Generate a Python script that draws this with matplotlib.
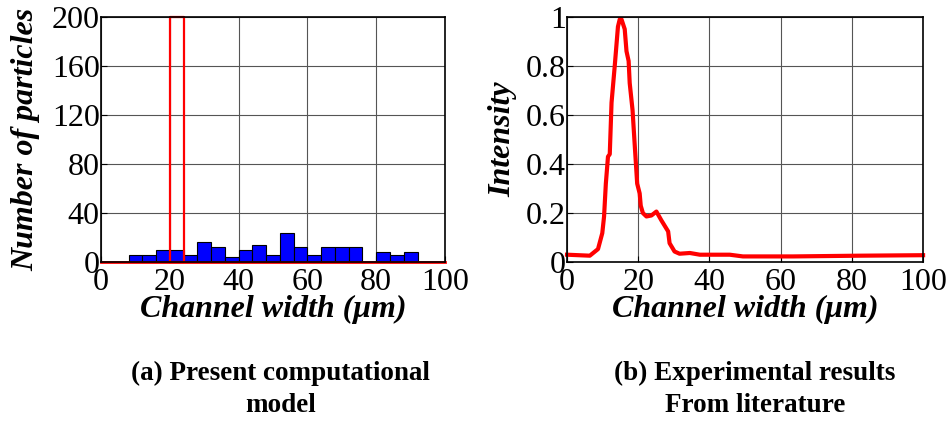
import numpy as np
import matplotlib
matplotlib.use("Agg")
import matplotlib.pyplot as plt

# histogramme du modele (bins de 4 um)
bin_left = [8, 12, 16, 20, 24, 28, 32, 36, 40, 44, 48, 52, 56, 60, 64, 68, 72, 76, 80, 84, 88]
counts = [6, 6, 10, 10, 6, 16, 12, 4, 10, 14, 6, 24, 12, 6, 12, 12, 12, 0, 8, 6, 8]
bin_width = 4
# zone marquee en rouge
box_x = [20, 24]
box_y = [0, 200]

# courbe experimentale (litterature)
exp_x = [0, 6.4, 8.7, 9.9, 10.4, 10.9, 11.5, 12.0, 12.5, 13.4, 14.3, 14.8, 15.3, 16.2,
         16.7, 17.3, 17.6, 18.4, 19.0, 19.7, 20.4, 20.7, 21.3, 22.3, 23.7, 25.1, 26.5,
         28.4, 28.8, 30.2, 31.6, 34.5, 37.3, 45.7, 49.4, 63.5, 82.2, 100]
exp_y = [0.030, 0.026, 0.053, 0.118, 0.186, 0.32, 0.43, 0.44, 0.65, 0.80, 0.96, 0.99,
         0.99, 0.95, 0.86, 0.82, 0.73, 0.62, 0.48, 0.32, 0.28, 0.23, 0.20, 0.186, 0.19,
         0.206, 0.17, 0.125, 0.077, 0.043, 0.034, 0.037, 0.030, 0.030, 0.023, 0.023,
         0.026, 0.028]

xticks = [0, 20, 40, 60, 80, 100]

plt.rcParams["font.family"] = ["Liberation Serif", "DejaVu Serif"]

fig = plt.figure(figsize=(9.53, 4.22), dpi=100)
ax1 = fig.add_axes([0.106, 0.379, 0.361, 0.581])
ax2 = fig.add_axes([0.595, 0.379, 0.3736, 0.581])


def style(ax):
    ax.set_xlim(0, 100)
    ax.set_xticks(xticks)
    ax.grid(True, color="#555555", linewidth=0.8)
    ax.set_axisbelow(True)
    ax.tick_params(direction="in", labelsize=23, length=4, pad=1, top=False, right=False)
    ax.tick_params(axis="x", pad=4)
    for s in ax.spines.values():
        s.set_linewidth(1.2)
        s.set_zorder(5)
    ax.set_xlabel("Channel width (μm)", fontsize=23, fontweight="bold",
                  fontstyle="italic", labelpad=-1)


# (a)
ax1.bar(bin_left, counts, width=bin_width, align="edge", color="#0000ff",
        edgecolor="black", linewidth=0.8, zorder=2)
ax1.plot([box_x[0], box_x[0], box_x[1], box_x[1], box_x[0]],
         [box_y[0], box_y[1], box_y[1], box_y[0], box_y[0]],
         color="red", linewidth=1.6, zorder=3, clip_on=False)
ax1.plot([0, 100], [0, 0], color="red", linewidth=2, zorder=4, clip_on=False)
ax1.set_ylim(0, 200)
ax1.set_yticks([0, 40, 80, 120, 160, 200])
style(ax1)
ax1.set_ylabel("Number of particles", fontsize=23, fontweight="bold",
               fontstyle="italic", labelpad=8)

# (b)
ax2.plot(exp_x, exp_y, color="red", linewidth=3, zorder=3, clip_on=False)
ax2.set_ylim(0, 1)
ax2.set_yticks([0, 0.2, 0.4, 0.6, 0.8, 1])
ax2.set_yticklabels(["0", "0.2", "0.4", "0.6", "0.8", "1"])
style(ax2)
ax2.set_ylabel("Intensity", fontsize=23, fontweight="bold",
               fontstyle="italic", labelpad=6)

fig.text(0.294, 0.077, "(a) Present computational\nmodel", ha="center", va="center",
         fontsize=19.5, fontweight="bold", linespacing=1.35)
fig.text(0.792, 0.077, "(b) Experimental results\nFrom literature", ha="center",
         va="center", fontsize=19.5, fontweight="bold", linespacing=1.35)

fig.savefig("out.png", dpi=100)
